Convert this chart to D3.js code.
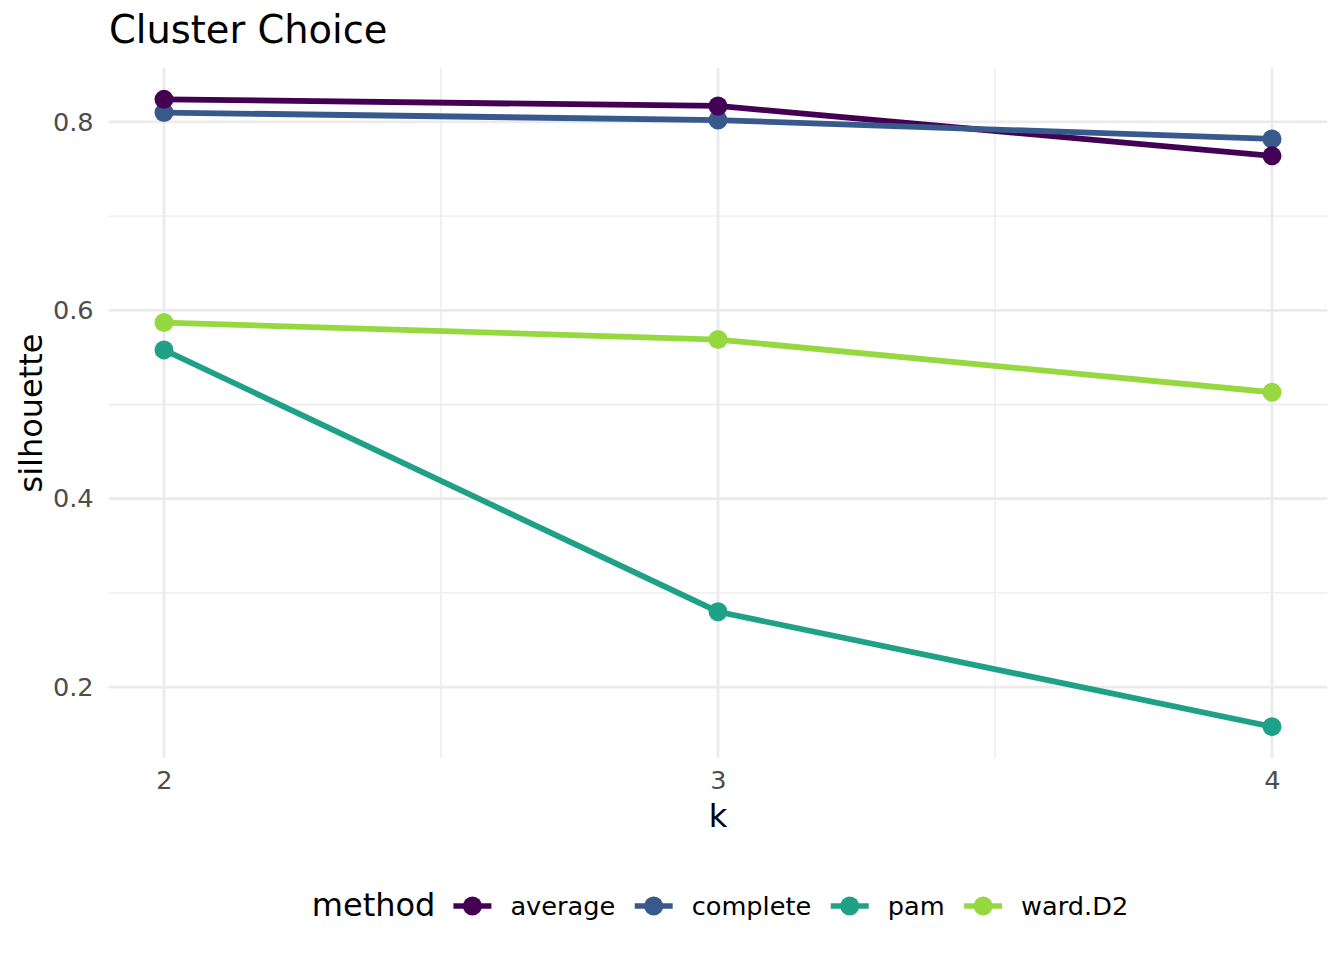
<!DOCTYPE html>
<html>
<head>
<meta charset="utf-8">
<script src="https://cdn.jsdelivr.net/npm/d3@7"></script>
<style>
  body { margin: 0; background: #fff; }
  svg { display: block; font-family: "DejaVu Sans", sans-serif; }
</style>
</head>
<body>
<script>
// data
const ks = [2, 3, 4];
const methods = ["average", "complete", "pam", "ward.D2"];
const average = [0.824, 0.817, 0.764];
const complete = [0.810, 0.802, 0.782];
const pam = [0.558, 0.280, 0.158];
const wardD2 = [0.587, 0.569, 0.513];
const colours = ["#440154", "#38598C", "#1FA187", "#95D840"];
const yTicks = [0.2, 0.4, 0.6, 0.8];
const yMinor = [0.3, 0.5, 0.7];
const xMinor = [2.5, 3.5];

const series = [average, complete, pam, wardD2].map((vals, i) => ({
  name: methods[i],
  colour: colours[i],
  pts: vals.map((v, j) => ({ k: ks[j], s: v }))
}));

const width = 1344, height = 960;
const panel = { left: 108.6, right: 1327.4, top: 68, bottom: 758 };

const svg = d3.select("body").append("svg")
  .attr("width", width)
  .attr("height", height);

// ggplot style 5% expansion
const allVals = series.flatMap(d => d.pts.map(p => p.s));
const yLo = d3.min(allVals), yHi = d3.max(allVals);
const yPad = (yHi - yLo) * 0.05;
const xPad = (d3.max(ks) - d3.min(ks)) * 0.05;

const x = d3.scaleLinear()
  .domain([d3.min(ks) - xPad, d3.max(ks) + xPad])
  .range([panel.left, panel.right]);
const y = d3.scaleLinear()
  .domain([yLo - yPad, yHi + yPad])
  .range([panel.bottom, panel.top]);

// grid
const grid = svg.append("g");
grid.selectAll(".ymin").data(yMinor).enter().append("line")
  .attr("x1", panel.left).attr("x2", panel.right)
  .attr("y1", d => y(d)).attr("y2", d => y(d))
  .attr("stroke", "#EBEBEB").attr("stroke-width", 1.4);
grid.selectAll(".xmin").data(xMinor).enter().append("line")
  .attr("y1", panel.top).attr("y2", panel.bottom)
  .attr("x1", d => x(d)).attr("x2", d => x(d))
  .attr("stroke", "#EBEBEB").attr("stroke-width", 1.4);
grid.selectAll(".ymaj").data(yTicks).enter().append("line")
  .attr("x1", panel.left).attr("x2", panel.right)
  .attr("y1", d => y(d)).attr("y2", d => y(d))
  .attr("stroke", "#EBEBEB").attr("stroke-width", 2.8);
grid.selectAll(".xmaj").data(ks).enter().append("line")
  .attr("y1", panel.top).attr("y2", panel.bottom)
  .attr("x1", d => x(d)).attr("x2", d => x(d))
  .attr("stroke", "#EBEBEB").attr("stroke-width", 2.8);

// axes (labels only, like theme_minimal)
const yAxis = svg.append("g")
  .attr("transform", `translate(${panel.left - 4},0)`)
  .call(d3.axisLeft(y).tickValues(yTicks).tickFormat(d3.format(".1f")).tickSize(0).tickPadding(11));
const xAxis = svg.append("g")
  .attr("transform", `translate(0,${panel.bottom})`)
  .call(d3.axisBottom(x).tickValues(ks).tickFormat(d3.format("d")).tickSize(0).tickPadding(13));
[yAxis, xAxis].forEach(a => {
  a.select(".domain").remove();
  a.selectAll("text")
    .attr("font-family", "DejaVu Sans")
    .attr("font-size", 25.6)
    .attr("fill", "#4D4D4D");
});

// lines then points
const line = d3.line().x(d => x(d.k)).y(d => y(d.s));
svg.append("g").selectAll("path").data(series).enter().append("path")
  .attr("d", d => line(d.pts))
  .attr("fill", "none")
  .attr("stroke", d => d.colour)
  .attr("stroke-width", 5.8);

svg.append("g").selectAll("g").data(series.slice().reverse()).enter().append("g")
  .attr("fill", d => d.colour)
  .selectAll("circle").data(d => d.pts).enter().append("circle")
  .attr("cx", d => x(d.k))
  .attr("cy", d => y(d.s))
  .attr("r", 9.5);

// titles
svg.append("text")
  .attr("x", 109).attr("y", 43)
  .attr("font-size", 38.4)
  .attr("fill", "#000")
  .text("Cluster Choice");

svg.append("text")
  .attr("x", (panel.left + panel.right) / 2).attr("y", 827)
  .attr("text-anchor", "middle")
  .attr("font-size", 32)
  .text("k");

svg.append("text")
  .attr("transform", `translate(42,${(panel.top + panel.bottom) / 2}) rotate(-90)`)
  .attr("text-anchor", "middle")
  .attr("font-size", 32)
  .text("silhouette");

// legend
const legend = svg.append("g");
const legTitle = legend.append("text")
  .attr("x", 0).attr("y", 916)
  .attr("font-size", 32)
  .text("method");
let cx = legTitle.node().getComputedTextLength() + 37;
series.forEach(s => {
  legend.append("line")
    .attr("x1", cx - 19).attr("x2", cx + 19)
    .attr("y1", 906).attr("y2", 906)
    .attr("stroke", s.colour).attr("stroke-width", 5.5);
  legend.append("circle")
    .attr("cx", cx).attr("cy", 906).attr("r", 9.5)
    .attr("fill", s.colour);
  const t = legend.append("text")
    .attr("x", cx + 38).attr("y", 915)
    .attr("font-size", 25.6)
    .text(s.name);
  cx = cx + 38 + t.node().getComputedTextLength() + 38.5;
});
const legW = cx - 38.5;
legend.attr("transform", `translate(${720 - legW / 2},0)`);
</script>
</body>
</html>
